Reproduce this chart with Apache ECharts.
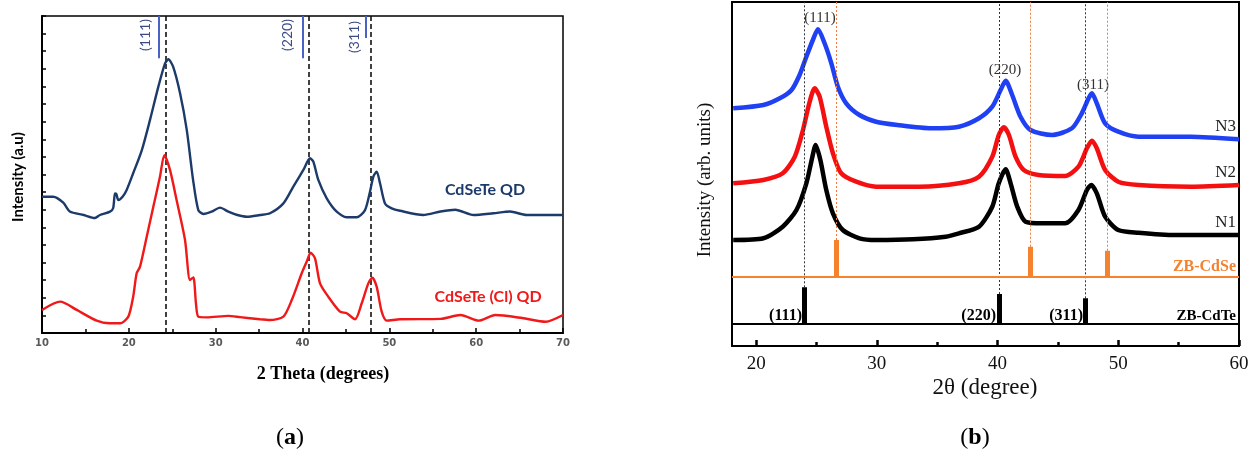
<!DOCTYPE html>
<html><head><meta charset="utf-8">
<script src="https://cdn.jsdelivr.net/npm/echarts@6/dist/echarts.min.js"></script>
<style>html,body{margin:0;padding:0;background:#fff}#c{width:1260px;height:462px}</style>
</head><body><div id="c"></div>
<script>
// ---------- Panel (a) data: [2theta, intensity a.u.] ----------
const cdseteQD = [[10,7.74],[11.3,7.74],[12.45,7.4],[13.2,6.9],[14.8,6.7],[16.1,6.53],[16.68,6.7],[17.83,6.89],[18.2,7.1],[18.4,7.93],[18.55,7.9],[18.8,7.55],[19.3,7.75],[19.75,8.12],[20.5,9.07],[21.5,10.39],[22.44,12.1],[23.4,13.99],[24.17,15.31],[24.55,15.54],[25.1,15.12],[25.9,13.61],[26.67,11.53],[27.4,8.69],[28.0,6.98],[28.58,6.76],[29.54,6.89],[30.5,7.12],[31.46,6.89],[32.5,6.7],[33.6,6.6],[35.1,6.7],[36.26,6.8],[37.8,7.36],[38.94,8.31],[40.1,9.26],[40.87,9.92],[41.25,9.73],[41.82,8.69],[42.79,7.65],[43.94,6.89],[45.09,6.57],[46.24,6.57],[47.2,6.98],[47.77,8.02],[48.16,8.88],[48.54,9.16],[48.93,8.5],[49.5,7.36],[50.27,7.08],[51.23,6.94],[53.9,6.7],[55.9,6.9],[57.6,7.0],[59.7,6.7],[62.0,6.8],[63.9,6.9],[65.8,6.7],[70,6.7]];
const cdseteClQD = [[10,1.31],[12.1,1.78],[14.0,1.31],[16.3,0.7],[17.8,0.55],[19.0,0.55],[19.94,0.93],[20.5,2.06],[20.9,3.39],[21.29,3.77],[22.06,5.47],[22.82,7.17],[23.59,8.88],[24.09,10.1],[24.74,9.26],[25.5,7.55],[26.47,5.28],[27.04,3.01],[27.43,3.16],[27.73,1.69],[28.0,0.93],[28.97,0.89],[31.46,0.97],[32.8,0.9],[35.1,0.78],[36.26,0.74],[37.8,0.93],[38.76,1.87],[39.91,3.39],[40.48,4.05],[40.94,4.56],[41.44,4.24],[42.02,2.82],[42.97,2.06],[44.32,1.21],[45.09,1.12],[46.05,0.78],[46.82,1.69],[47.58,2.82],[48.04,3.14],[48.54,2.63],[49.12,1.21],[49.7,0.7],[51.23,0.78],[55.9,0.8],[58.2,1.02],[60.3,0.7],[62.2,1.02],[65.3,0.85],[68.0,0.64],[70,1.02]];
const aDashed = [24.2, 40.7, 47.9];
const aHklPos = [23.5, 40.0, 47.3];
const aHklTop = [15.6, 15.6, 16.75];
const aHklLabels = ['(111)', '(220)', '(311)'];

// ---------- Panel (b) data ----------
const n1 = [[18.1,106],[20.6,107.7],[22.2,119.3],[23.34,136],[24.16,162.7],[24.66,189.3],[24.93,201],[25.32,186],[25.81,156],[26.36,132.7],[27.18,116],[28.56,107.7],[29.94,106],[33.0,106.7],[35.7,109.3],[36.8,112.7],[38.46,119.3],[39.56,139.3],[40.1,162.7],[40.67,176.7],[41.08,162.7],[41.63,139.3],[42.32,124.3],[43.7,122.7],[45.6,122.7],[46.7,136],[47.4,156],[47.76,161],[48.22,152.7],[48.91,129.3],[50.0,116],[51.67,113.3],[54.7,111],[60,111]];
const n2 = [[18.1,162.7],[20.6,166],[22.2,172.7],[23.2,189.3],[23.88,216],[24.4,242.7],[24.85,257.7],[25.26,249.3],[25.81,219.3],[26.36,192.7],[27.05,172.7],[28.29,164.3],[29.94,159.3],[33.5,159.3],[36.8,162.7],[38.46,169.3],[39.56,189.3],[40.1,211],[40.52,218.7],[40.94,211],[41.49,189.3],[42.17,176],[43.4,171],[45.6,170],[46.7,179.3],[47.4,197.7],[47.81,205.3],[48.22,197.7],[48.91,176],[50.0,164.3],[51.67,161],[56.0,159.3],[60,161]];
const n3 = [[18.1,237.7],[20.6,241],[21.96,247.7],[22.93,256],[23.6,271],[24.16,289.3],[24.7,306],[25.12,316.7],[25.67,302.7],[26.23,282.7],[26.77,259.3],[27.46,242.7],[28.56,231],[29.94,224.3],[31.7,221],[34.5,217.7],[36.8,219.3],[38.46,227.7],[39.56,239.3],[40.25,256],[40.67,265.3],[41.21,251],[41.9,229.3],[42.73,216],[44.5,211],[46.16,217.7],[46.98,232.7],[47.54,247.7],[47.81,252.7],[48.22,242.7],[48.91,222.7],[50.0,214.3],[51.67,209.3],[56.0,209.3],[60,206.7]];
const bMajorTicks = [20, 30, 40, 50, 60];
const bMinorTicks = [25, 35, 45, 55];
const cdseRefPos = [26.6, 42.7, 49.1];
const cdseRefTop = [106, 99.3, 95.3];
const cdseBase = 69.3;
const cdteRefPos = [24.0, 40.1, 47.3];
const cdteRefTop = [58.7, 52, 47.7];
const cdteBase = 22.7;
const bXMin = 18, bXMax = 60, bYMax = 344;

const chart = echarts.init(document.getElementById('c'));
const serif = '"Liberation Serif","Times New Roman",serif';
const sans = 'Lato,"Open Sans",sans-serif';

function vSeg(xs, y0s, y1s){ return xs.map((x,i)=>({coords:[[x, Array.isArray(y0s)?y0s[i]:y0s],[x, Array.isArray(y1s)?y1s[i]:y1s]]})); }

const option = {
  animation: false,
  backgroundColor: '#fff',
  grid: [
    {left: 42, top: 16, width: 521, height: 317, show: true, borderColor: '#000', borderWidth: 1.5},
    {left: 732, top: 2, width: 507, height: 344, show: true, borderColor: '#000', borderWidth: 2}
  ],
  xAxis: [
    {gridIndex: 0, type: 'value', min: 10, max: 70, interval: 10,
     axisLine: {onZero: false, lineStyle: {color: '#000', width: 2}},
     axisTick: {inside: true, length: 5, lineStyle: {color: '#000', width: 1.5}},
     minorTick: {show: true, splitNumber: 2, length: 4, lineStyle: {color: '#000', width: 1.5}},
     axisLabel: {color: '#595959', fontWeight: 'bold', fontSize: 10, fontFamily: '"DejaVu Sans",sans-serif', margin: 5},
     splitLine: {show: false}},
    {gridIndex: 1, type: 'value', min: bXMin, max: bXMax,
     axisLine: {onZero: false, lineStyle: {color: '#000', width: 2}},
     axisTick: {inside: true, length: 6, customValues: bMajorTicks, lineStyle: {color: '#000', width: 2.5}},
     axisLabel: {color: '#111', fontSize: 19, fontFamily: serif, margin: 9, customValues: bMajorTicks, showMaxLabel: true},
     splitLine: {show: false}}
  ],
  yAxis: [
    {gridIndex: 0, type: 'value', min: 0, max: 18, interval: 1,
     axisLine: {onZero: false, lineStyle: {color: '#000', width: 2}},
     axisTick: {inside: true, length: 4, lineStyle: {color: '#000', width: 1.5}},
     axisLabel: {show: false}, splitLine: {show: false}},
    {gridIndex: 1, type: 'value', min: 0, max: bYMax,
     axisLine: {onZero: false, lineStyle: {color: '#000', width: 2}},
     axisTick: {show: false}, axisLabel: {show: false}, splitLine: {show: false}}
  ],
  series: [
    // panel a
    {type: 'lines', coordinateSystem: 'cartesian2d', xAxisIndex: 0, yAxisIndex: 0, z: 1,
     data: vSeg(aDashed, 0, 18), lineStyle: {color: '#111', width: 1.6, type: [5, 3], opacity: 1}},
    {type: 'lines', coordinateSystem: 'cartesian2d', xAxisIndex: 0, yAxisIndex: 0, z: 1,
     data: vSeg(aHklPos, aHklTop, 18), lineStyle: {color: '#4a62c4', width: 2, opacity: 1}},
    {type: 'line', xAxisIndex: 0, yAxisIndex: 0, data: cdseteQD, showSymbol: false, smooth: 0.25,
     lineStyle: {color: '#1c3a6a', width: 2.4}, z: 3},
    {type: 'line', xAxisIndex: 0, yAxisIndex: 0, data: cdseteClQD, showSymbol: false, smooth: 0.25,
     lineStyle: {color: '#f01818', width: 2.4}, z: 3},
    // panel b
    {type: 'line', xAxisIndex: 1, yAxisIndex: 1, data: n1, showSymbol: false, smooth: 0.25,
     lineStyle: {color: '#000', width: 4.5}, z: 3},
    {type: 'line', xAxisIndex: 1, yAxisIndex: 1, data: n2, showSymbol: false, smooth: 0.25,
     lineStyle: {color: '#f41010', width: 4.5}, z: 3},
    {type: 'line', xAxisIndex: 1, yAxisIndex: 1, data: n3, showSymbol: false, smooth: 0.25,
     lineStyle: {color: '#2040f4', width: 4.5}, z: 3},
    {type: 'lines', coordinateSystem: 'cartesian2d', xAxisIndex: 1, yAxisIndex: 1, z: 4,
     data: vSeg(bMinorTicks, 0, 4), lineStyle: {color: '#000', width: 2.5, opacity: 1}},
    {type: 'lines', coordinateSystem: 'cartesian2d', xAxisIndex: 1, yAxisIndex: 1, z: 4,
     data: vSeg(cdteRefPos, cdteRefTop, bYMax), lineStyle: {color: '#333', width: 1, type: [2, 2], opacity: 1}},
    {type: 'lines', coordinateSystem: 'cartesian2d', xAxisIndex: 1, yAxisIndex: 1, z: 4,
     data: vSeg(cdseRefPos, cdseRefTop, bYMax), lineStyle: {color: '#f07a3a', width: 1, type: [2, 2], opacity: 1}},
    {type: 'lines', coordinateSystem: 'cartesian2d', xAxisIndex: 1, yAxisIndex: 1, z: 4,
     data: vSeg(cdseRefPos, cdseBase, cdseRefTop), lineStyle: {color: '#f5822e', width: 5, opacity: 1}},
    {type: 'lines', coordinateSystem: 'cartesian2d', xAxisIndex: 1, yAxisIndex: 1, z: 4,
     data: [{coords: [[bXMin, cdseBase], [bXMax, cdseBase]]}], lineStyle: {color: '#f5822e', width: 2, opacity: 1}},
    {type: 'lines', coordinateSystem: 'cartesian2d', xAxisIndex: 1, yAxisIndex: 1, z: 4,
     data: vSeg(cdteRefPos, cdteBase, cdteRefTop), lineStyle: {color: '#000', width: 5, opacity: 1}},
    {type: 'lines', coordinateSystem: 'cartesian2d', xAxisIndex: 1, yAxisIndex: 1, z: 4,
     data: [{coords: [[bXMin, cdteBase], [bXMax, cdteBase]]}], lineStyle: {color: '#000', width: 2, opacity: 1}}
  ],
  graphic: [
    // panel a texts
    {type: 'text', x: 18, y: 177, rotation: Math.PI/2, style: {text: 'Intensity (a.u)', font: 'bold 15px ' + sans, fill: '#000', align: 'center', verticalAlign: 'middle'}},
    {type: 'text', x: 323, y: 374, style: {text: '2 Theta (degrees)', font: 'bold 18px ' + serif, fill: '#000', align: 'center', verticalAlign: 'middle'}},
    {type: 'text', x: 485, y: 190, style: {text: 'CdSeTe QD', font: 'bold 16px ' + sans, fill: '#1c3a6a', align: 'center', verticalAlign: 'middle'}},
    {type: 'text', x: 488, y: 297, style: {text: 'CdSeTe (Cl) QD', font: 'bold 16px ' + sans, fill: '#f01818', align: 'center', verticalAlign: 'middle'}},
    {type: 'text', x: 145, y: 35, rotation: Math.PI/2, style: {text: aHklLabels[0], font: '14px ' + sans, fill: '#3c4a86', align: 'center', verticalAlign: 'middle'}},
    {type: 'text', x: 287, y: 35, rotation: Math.PI/2, style: {text: aHklLabels[1], font: '14px ' + sans, fill: '#3c4a86', align: 'center', verticalAlign: 'middle'}},
    {type: 'text', x: 354, y: 37, rotation: Math.PI/2, style: {text: aHklLabels[2], font: '14px ' + sans, fill: '#3c4a86', align: 'center', verticalAlign: 'middle'}},
    // panel b texts
    {type: 'text', x: 705, y: 180, rotation: Math.PI/2, style: {text: 'Intensity (arb. units)', font: '19px ' + serif, fill: '#111', align: 'center', verticalAlign: 'middle'}},
    {type: 'text', x: 985, y: 388, style: {text: '2θ (degree)', font: '23px ' + serif, fill: '#111', align: 'center', verticalAlign: 'middle'}},
    {type: 'text', x: 820, y: 18, style: {text: '(111)', font: '15px ' + serif, fill: '#333', align: 'center', verticalAlign: 'middle'}},
    {type: 'text', x: 1005, y: 70, style: {text: '(220)', font: '15px ' + serif, fill: '#333', align: 'center', verticalAlign: 'middle'}},
    {type: 'text', x: 1093, y: 85, style: {text: '(311)', font: '15px ' + serif, fill: '#333', align: 'center', verticalAlign: 'middle'}},
    {type: 'text', x: 1236, y: 127, style: {text: 'N3', font: '17px ' + serif, fill: '#222', align: 'right', verticalAlign: 'middle'}},
    {type: 'text', x: 1236, y: 173, style: {text: 'N2', font: '17px ' + serif, fill: '#222', align: 'right', verticalAlign: 'middle'}},
    {type: 'text', x: 1236, y: 223, style: {text: 'N1', font: '17px ' + serif, fill: '#222', align: 'right', verticalAlign: 'middle'}},
    {type: 'text', x: 1236, y: 267, style: {text: 'ZB-CdSe', font: 'bold 16px ' + serif, fill: '#f5822e', align: 'right', verticalAlign: 'middle'}},
    {type: 'text', x: 1236, y: 316, style: {text: 'ZB-CdTe', font: 'bold 15px ' + serif, fill: '#000', align: 'right', verticalAlign: 'middle'}},
    {type: 'text', x: 802, y: 316, style: {text: '(111)', font: 'bold 16px ' + serif, fill: '#000', align: 'right', verticalAlign: 'middle'}},
    {type: 'text', x: 996, y: 316, style: {text: '(220)', font: 'bold 16px ' + serif, fill: '#000', align: 'right', verticalAlign: 'middle'}},
    {type: 'text', x: 1083, y: 316, style: {text: '(311)', font: 'bold 16px ' + serif, fill: '#000', align: 'right', verticalAlign: 'middle'}},
    // captions
    {type: 'text', x: 290, y: 438, style: {text: '{p|(}{b|a}{p|)}', align: 'center', verticalAlign: 'middle',
      rich: {p: {font: '24px ' + serif, fill: '#000'}, b: {font: 'bold 24px ' + serif, fill: '#000'}}}},
    {type: 'text', x: 975, y: 438, style: {text: '{p|(}{b|b}{p|)}', align: 'center', verticalAlign: 'middle',
      rich: {p: {font: '24px ' + serif, fill: '#000'}, b: {font: 'bold 24px ' + serif, fill: '#000'}}}}
  ]
};
chart.setOption(option);
</script></body></html>
